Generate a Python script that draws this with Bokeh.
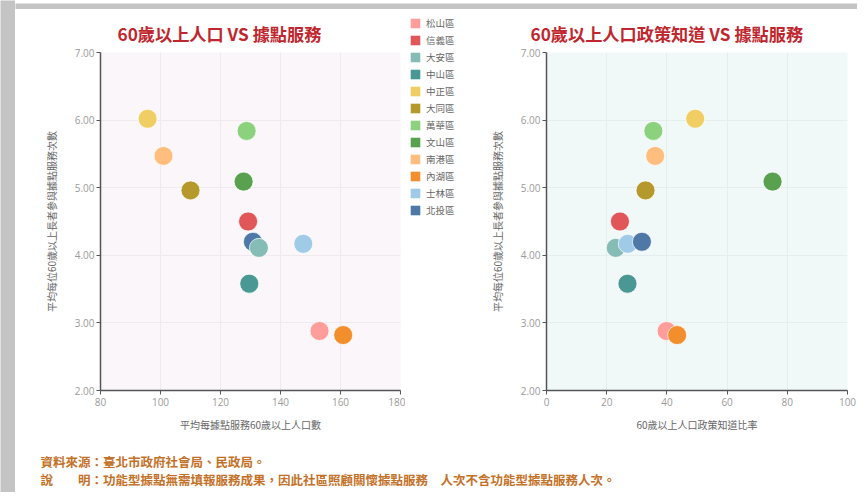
from bokeh.plotting import figure
from bokeh.layouts import column, row
from bokeh.models import (ColumnDataSource, Legend, LegendItem, Label, FixedTicker,
                          NumeralTickFormatter, Range1d)
from bokeh.embed import file_html
from bokeh.resources import INLINE

# ---------------- data ----------------
districts = ["松山區", "信義區", "大安區", "中山區", "中正區", "大同區",
             "萬華區", "文山區", "南港區", "內湖區", "士林區", "北投區"]
colors = ["#FF9D9A", "#E15759", "#86BCB6", "#499894", "#F1CE63", "#B6992D",
          "#8CD17D", "#59A14F", "#FFBE7D", "#F28E2B", "#A0CBE8", "#4E79A7"]
pop_per_site = [153.0, 129.2, 132.8, 129.6, 95.7, 110.0,
                128.7, 127.7, 101.0, 160.9, 147.6, 130.8]
awareness = [39.9, 24.4, 23.0, 26.9, 49.4, 32.9,
             35.5, 75.1, 36.1, 43.4, 27.0, 31.7]
visits = [2.88, 4.50, 4.11, 3.58, 6.02, 4.96,
          5.84, 5.09, 5.47, 2.82, 4.17, 4.20]

y_ticks = [2, 3, 4, 5, 6, 7]
x_ticks_left = [80, 100, 120, 140, 160, 180]
x_ticks_right = [0, 20, 40, 60, 80, 100]

title_left = "60歲以上人口  VS 據點服務"
title_right = "60歲以上人口政策知道  VS 據點服務"
xlabel_left = "平均每據點服務60歲以上人口數"
xlabel_right = "60歲以上人口政策知道比率"
ylabel = "平均每位60歲以上長者參與據點服務次數"
note1 = "資料來源：臺北市政府社會局、民政局。"
note2 = "說　　明：功能型據點無需填報服務成果，因此社區照顧關懷據點服務　人次不含功能型據點服務人次。"

CJK = "Noto Sans CJK TC"
TITLE_COLOR = "#C0262D"
NOTE_COLOR = "#C47128"
FRAME_GRAY = "#c4c4c4"


def blank(width, height, bg="white"):
    f = figure(width=width, height=height, output_backend="svg", toolbar_location=None,
               x_range=Range1d(0, 1), y_range=Range1d(0, 1), min_border=0)
    f.axis.visible = False
    f.grid.visible = False
    f.outline_line_color = None
    f.background_fill_color = bg
    f.border_fill_color = bg
    if "frame_align" in f.properties():
        f.frame_align = False
    return f


def sorted_source(xvals):
    order = sorted(range(len(xvals)), key=lambda i: xvals[i])
    return ColumnDataSource(dict(
        x=[xvals[i] for i in order],
        y=[visits[i] for i in order],
        color=[colors[i] for i in order],
        name=[districts[i] for i in order],
    ))


def make_plot(xvals, xr, xticks, xlabel, title, title_dx, bg, gridc, width, bl, br,
              ylab_standoff):
    p = figure(width=width, height=436, x_range=Range1d(*xr), y_range=Range1d(2, 7),
               output_backend="svg", toolbar_location=None,
               min_border_left=bl, min_border_right=br,
               min_border_top=43, min_border_bottom=55)
    p.background_fill_color = bg
    p.border_fill_color = "white"
    p.outline_line_color = None

    p.title.text = title
    p.title.align = "left"
    p.title.offset = title_dx
    p.title.text_font = CJK
    p.title.text_font_size = "17.2px"
    p.title.text_font_style = "bold"
    p.title.text_color = TITLE_COLOR
    p.title.standoff = 14

    p.xaxis.ticker = FixedTicker(ticks=xticks)
    p.yaxis.ticker = FixedTicker(ticks=y_ticks)
    p.xgrid.ticker = FixedTicker(ticks=xticks)
    p.ygrid.ticker = FixedTicker(ticks=y_ticks)
    p.yaxis.formatter = NumeralTickFormatter(format="0.00")
    p.grid.grid_line_color = gridc
    p.grid.grid_line_width = 1

    for ax in p.axis:
        ax.axis_line_color = "#555555"
        ax.axis_line_width = 1.5
        ax.major_tick_line_color = "#555555"
        ax.major_tick_line_width = 1
        ax.major_tick_out = 4
        ax.major_tick_in = 0
        ax.minor_tick_line_color = None
        ax.major_label_text_color = "#9a9a9a"
        ax.major_label_text_font = "Open Sans"
        ax.major_label_text_font_size = "10px"
        ax.axis_label_text_font = CJK
        ax.axis_label_text_font_size = "10px"
        ax.axis_label_text_font_style = "normal"
        ax.axis_label_text_color = "#666666"
    p.xaxis.major_label_standoff = 3
    p.yaxis.major_label_standoff = 2
    p.xaxis.axis_label = xlabel
    p.yaxis.axis_label = ylabel
    p.xaxis.axis_label_standoff = 8
    p.yaxis.axis_label_standoff = ylab_standoff

    src = sorted_source(xvals)
    p.scatter("x", "y", source=src, size=19, fill_color="color",
              line_color="white", line_width=1, line_alpha=0.7)
    return p


left = make_plot(pop_per_site, (80, 180), x_ticks_left, xlabel_left, title_left, 17,
                 "#FAF6FA", "#EFEAF0", 390, 85, 5, 13)
right = make_plot(awareness, (0, 100), x_ticks_right, xlabel_right, title_right, -16,
                  "#F1F8F8", "#E4EEEF", 377, 66, 10, 13)

# legend (square swatches) in its own narrow panel
leg_fig = blank(75, 436)
leg_src = ColumnDataSource(dict(x=pop_per_site, y=visits, color=colors, name=districts))
leg_r = leg_fig.rect("x", "y", width=0, height=0, source=leg_src,
                     fill_color="color", line_color=None)
items = [LegendItem(label=districts[i], renderers=[leg_r], index=i)
         for i in range(len(districts))]
legend = Legend(items=items, location=(4, 228), orientation="vertical",
                padding=0, margin=0, spacing=3, glyph_width=12, glyph_height=12,
                label_height=14, label_standoff=5, label_text_font=CJK,
                label_text_font_size="9.5px", label_text_color="#666666",
                border_line_color=None, background_fill_alpha=0)
leg_fig.add_layout(legend)

# footnotes
bottom = blank(842, 47)
for txt, yy in ((note1, 31), (note2, 13)):
    bottom.add_layout(Label(x=25, y=yy, x_units="screen", y_units="screen", text=txt,
                            text_font=CJK, text_font_size="12.5px", text_font_style="bold",
                            text_color=NOTE_COLOR, text_baseline="middle",
                            text_align="left"))

top_band = blank(842, 9, FRAME_GRAY)
strip = blank(15, 492, FRAME_GRAY)

middle = row(column(left), column(leg_fig), column(right))
layout = row(strip, column(top_band, middle, bottom))
open("out.html", "w").write(file_html(layout, INLINE))
